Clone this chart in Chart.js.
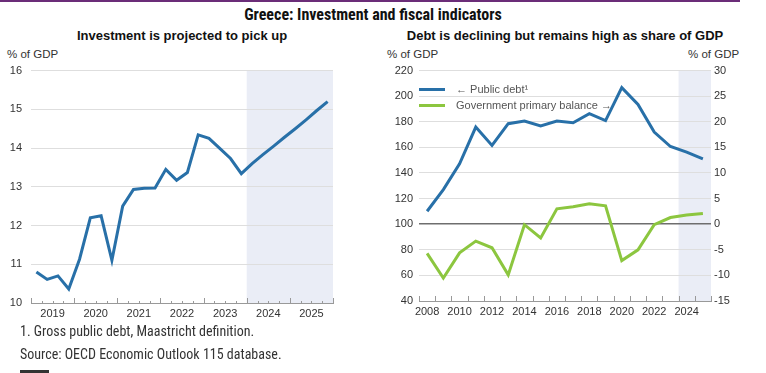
<!DOCTYPE html>
<html>
<head>
<meta charset="utf-8">
<script src="https://cdn.jsdelivr.net/npm/chart.js@4.4.1/dist/chart.umd.min.js"></script>
<style>
  body { margin: 0; width: 766px; height: 373px; background: #fff; position: relative; overflow: hidden;
         font-family: "Liberation Sans", Arial, sans-serif; color: #333; }
  .abs { position: absolute; white-space: nowrap; line-height: 1; }
  .topline { left: 0; top: 0; width: 740px; height: 2px; background: #6b2d78; }
  .title { left: 0; width: 746px; top: 7px; text-align: center; font-family: "Roboto Condensed", "Liberation Sans Narrow", "DejaVu Sans Condensed", sans-serif;
           font-weight: bold; font-size: 16px; color: #111; }
  .sub { top: 29px; font-weight: bold; font-size: 13px; color: #111; text-align: center; }
  .unit { top: 49px; font-size: 11.5px; color: #333; }
  .note { left: 20px; font-family: "Roboto Condensed", "Liberation Sans Narrow", "DejaVu Sans Condensed", sans-serif; font-size: 14px; color: #333; }
  .bar { left: 20px; top: 370px; width: 29px; height: 3px; background: #333; }
  .box { position: absolute; }
  .legend { left: 419px; top: 81px; font-size: 11px; color: #555; }
  .legend div { height: 16px; display: flex; align-items: center; }
  .legend span.sw { display: inline-block; width: 26px; height: 3px; margin-right: 11px; }
</style>
</head>
<body>
<div class="abs topline"></div>
<div class="abs title">Greece: Investment and fiscal indicators</div>
<div class="abs sub" style="left:0;width:364px">Investment is projected to pick up</div>
<div class="abs sub" style="left:380px;width:370px">Debt is declining but remains high as share of GDP</div>
<div class="abs unit" style="left:7px">% of GDP</div>
<div class="abs unit" style="left:387px">% of GDP</div>
<div class="abs unit" style="left:688px">% of GDP</div>

<div class="box" style="left:0;top:55px;width:345px;height:270px"><canvas id="inv"></canvas></div>
<div class="box" style="left:380px;top:58px;width:386px;height:265px"><canvas id="debt"></canvas></div>

<div class="abs legend">
  <div><span class="sw" style="background:#2870a8"></span>&larr; Public debt&sup1;</div>
  <div><span class="sw" style="background:#8cc63f"></span>Government primary balance &rarr;</div>
</div>

<div class="abs note" style="top:324px">1. Gross public debt, Maastricht definition.</div>
<div class="abs note" style="top:347px">Source: OECD Economic Outlook 115 database.</div>
<div class="abs bar"></div>

<script>
  // left panel: quarterly investment, % of GDP
  const invYears = [2019, 2020, 2021, 2022, 2023, 2024, 2025];
  const investment = [10.80, 10.61, 10.70, 10.36,
                      11.13, 12.20, 12.25, 11.10,
                      12.50, 12.93, 12.96, 12.97,
                      13.45, 13.17, 13.37, 14.34,
                      14.25, 13.99, 13.73, 13.34,
                      13.60, 13.83, 14.05, 14.28,
                      14.50, 14.73, 14.97, 15.20];
  const invProjFrom = 2024;

  // right panel: annual debt and primary balance
  const debtYears = ['2008', '2009', '2010', '2011', '2012', '2013', '2014', '2015', '2016',
                     '2017', '2018', '2019', '2020', '2021', '2022', '2023', '2024', '2025'];
  const publicDebt = [110.1, 127.0, 147.2, 175.9, 161.5, 178.5, 180.6, 176.7, 180.6,
                      179.3, 186.3, 180.9, 206.7, 193.6, 172.0, 160.7, 156.3, 151.1];
  const primaryBalance = [-5.7, -10.5, -5.6, -3.3, -4.6, -9.9, -0.1, -2.7, 3.0,
                          3.4, 4.0, 3.6, -7.1, -5.0, -0.1, 1.3, 1.8, 2.1];
  const debtProjFrom = '2024';

  const blue = '#2870a8', green = '#8cc63f', shade = '#eaedf6', gridCol = '#dedede';
  const tickFont = { family: '"Liberation Sans", Arial, sans-serif', size: 11 };

  // quarter points sit in the middle of each quarter
  const invPoints = investment.map((v, i) => ({
    x: invYears[0] + Math.floor(i / 4) + ((i % 4) + 0.5) / 4, y: v
  }));

  // projection shading, drawn before the grid so gridlines stay visible
  const shadePlugin = {
    id: 'shade',
    beforeDraw(chart, args, opts) {
      const a = chart.chartArea, x = chart.scales.x;
      let x0;
      if (x.type === 'category') {
        const i = x.getLabels().indexOf(opts.from);
        x0 = x.getPixelForValue(i) - (x.getPixelForValue(1) - x.getPixelForValue(0)) / 2;
      } else {
        x0 = x.getPixelForValue(opts.from);
      }
      const c = chart.ctx;
      c.save();
      c.fillStyle = shade;
      c.fillRect(x0, a.top, a.right - x0, a.bottom - a.top);
      c.restore();
    }
  };

  // small tick marks pointing up from the x axis
  const ticksPlugin = {
    id: 'upTicks',
    afterDatasetsDraw(chart, args, opts) {
      const a = chart.chartArea, x = chart.scales.x, c = chart.ctx;
      c.save();
      c.strokeStyle = '#999';
      c.lineWidth = 1;
      c.beginPath();
      c.moveTo(a.left, a.bottom + 0.5);
      c.lineTo(a.right, a.bottom + 0.5);
      (opts.marks || []).forEach(m => {
        const px = Math.round(m.px(x)) + 0.5;
        c.moveTo(px, a.bottom + 1);
        c.lineTo(px, a.bottom - m.len);
      });
      c.stroke();
      c.restore();
    }
  };

  const invMarks = [];
  for (let y = invYears[0]; y <= invYears[invYears.length - 1] + 1; y++) {
    invMarks.push({ px: s => s.getPixelForValue(y), len: 5 });
    if (y <= invYears[invYears.length - 1])
      for (let q = 1; q < 4; q++) invMarks.push({ px: s => s.getPixelForValue(y + q / 4), len: 2 });
  }

  new Chart(document.getElementById('inv'), {
    type: 'line',
    data: {
      datasets: [{
        data: invPoints,
        borderColor: blue,
        borderWidth: 3,
        pointRadius: 0,
        tension: 0
      }]
    },
    options: {
      responsive: true,
      maintainAspectRatio: false,
      animation: false,
      layout: { padding: { right: 12 } },
      plugins: {
        legend: { display: false },
        tooltip: { enabled: false },
        shade: { from: invProjFrom },
        upTicks: { marks: invMarks }
      },
      scales: {
        x: {
          type: 'linear',
          min: invYears[0],
          max: invYears[invYears.length - 1] + 1,
          afterBuildTicks: s => { s.ticks = invYears.map(y => ({ value: y + 0.5 })); },
          afterFit: s => { s.height = 22; },
          grid: { display: false, drawTicks: false },
          border: { display: false },
          ticks: { color: '#333', font: tickFont, padding: 4, maxRotation: 0, autoSkip: false,
                   callback: v => String(Math.floor(v)) }
        },
        y: {
          min: 10, max: 16,
          afterFit: s => { s.width = 31; },
          grid: { color: gridCol, drawTicks: false },
          border: { display: false },
          ticks: { stepSize: 1, color: '#333', font: tickFont, padding: 9 }
        }
      }
    },
    plugins: [shadePlugin, ticksPlugin]
  });

  const debtMarks = debtYears.map((d, i) => ({
    px: s => s.getPixelForValue(i) - (s.getPixelForValue(1) - s.getPixelForValue(0)) / 2, len: 5
  }));
  debtMarks.push({
    px: s => s.getPixelForValue(debtYears.length - 1) + (s.getPixelForValue(1) - s.getPixelForValue(0)) / 2, len: 5
  });

  new Chart(document.getElementById('debt'), {
    type: 'line',
    data: {
      labels: debtYears,
      datasets: [{
        label: 'Public debt',
        data: publicDebt,
        yAxisID: 'y',
        borderColor: blue,
        borderWidth: 3,
        pointRadius: 0,
        tension: 0
      }, {
        label: 'Government primary balance',
        data: primaryBalance,
        yAxisID: 'y2',
        borderColor: green,
        borderWidth: 3,
        pointRadius: 0,
        tension: 0
      }]
    },
    options: {
      responsive: true,
      maintainAspectRatio: false,
      animation: false,
      plugins: {
        legend: { display: false },
        tooltip: { enabled: false },
        shade: { from: debtProjFrom },
        upTicks: { marks: debtMarks }
      },
      scales: {
        x: {
          offset: true,
          afterFit: s => { s.height = 22; },
          grid: { display: false, drawTicks: false },
          border: { display: false },
          ticks: { color: '#333', font: tickFont, padding: 4, maxRotation: 0, autoSkip: false,
                   callback: (v, i) => (i % 2 === 0 ? debtYears[i] : '') }
        },
        y: {
          position: 'left',
          min: 40, max: 220,
          afterFit: s => { s.width = 39; },
          grid: {
            drawTicks: false,
            color: c => (c.tick.value === 100 ? '#6e6e6e' : gridCol),
            lineWidth: c => (c.tick.value === 100 ? 1.5 : 1)
          },
          border: { display: false },
          ticks: { stepSize: 20, color: '#333', font: tickFont, padding: 6 }
        },
        y2: {
          position: 'right',
          min: -15, max: 30,
          afterFit: s => { s.width = 55; },
          grid: { drawOnChartArea: false, drawTicks: false },
          border: { display: false },
          ticks: { stepSize: 5, color: '#333', font: tickFont, padding: 3 }
        }
      }
    },
    plugins: [shadePlugin, ticksPlugin]
  });
</script>
</body>
</html>
